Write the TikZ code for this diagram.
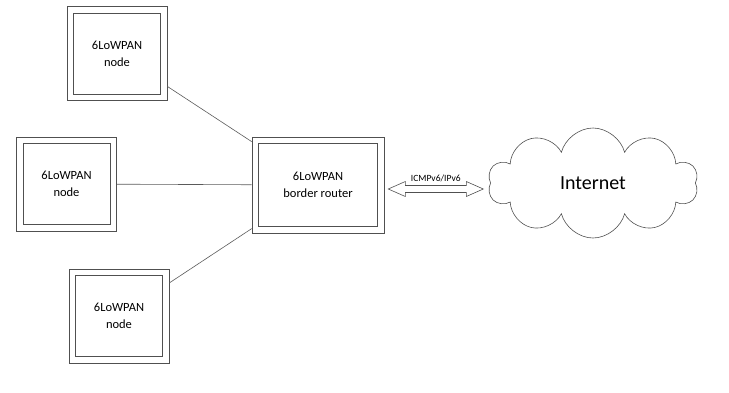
\documentclass[tikz,border=0pt]{standalone}
\usepackage{fontspec}
\setmainfont{Carlito}
\definecolor{boxgray}{RGB}{80,80,80}
\definecolor{linegray}{RGB}{90,90,90}
\usetikzlibrary{arrows.meta,positioning,shapes.symbols,calc}

\begin{document}
\begin{tikzpicture}[x=1pt,y=-1pt,
    every node/.style={font=\fontsize{12.5}{17}\selectfont},
    dbox/.style={draw=boxgray,line width=0.6pt,fill=white,align=center,
                 minimum width=100pt,minimum height=94pt},
    inner/.style={draw=boxgray,line width=0.6pt},
    link/.style={linegray,line width=0.6pt}]

  \useasboundingbox (0,0) rectangle (729,392);

  \node[dbox]                    (n1)     at (117, 53.5) {6LoWPAN\\node};
  \node[dbox]                    (n2)     at (66.5, 184) {6LoWPAN\\node};
  \node[dbox]                    (n3)     at (119, 316)  {6LoWPAN\\node};
  \node[dbox,minimum width=132pt,minimum height=96pt]
                                 (router) at (318, 185)  {6LoWPAN\\border router};

  % inner frames
  \foreach \b in {n1,n2,n3,router}
    \draw[inner] ($(\b.north west)+(7,7)$) rectangle ($(\b.south east)-(7,7)$);

  \node[cloud,draw=boxgray,line width=0.6pt,cloud puffs=10,aspect=2,
        minimum width=210pt,minimum height=110pt,
        font=\fontsize{20}{22}\selectfont] (inet) at (593, 183) {Internet};

  % hollow double arrow
  \coordinate (tipL) at ($(router.east)+(4,4)$);
  \coordinate (tipR) at ($(tipL)+(95,0)$);
  \draw[inner,fill=white] (tipL) -- ++(17,-7.5) -- ++(0,4) -- ($(tipR)+(-17,-3.5)$)
      -- ++(0,-4) -- (tipR) -- ++(-17,7.5) -- ++(0,-4) -- ($(tipL)+(17,3.5)$)
      -- ++(0,4) -- cycle;
  \node[font=\fontsize{9.5}{11}\selectfont,anchor=south] (proto)
      at ($(tipL)!0.5!(tipR)+(0,-4)$) {ICMPv6/IPv6};

  \draw[link] (n1) -- (router);
  \draw[link] (n2) -- (router);
  \draw[link] (n3) -- (router);
\end{tikzpicture}
\end{document}
